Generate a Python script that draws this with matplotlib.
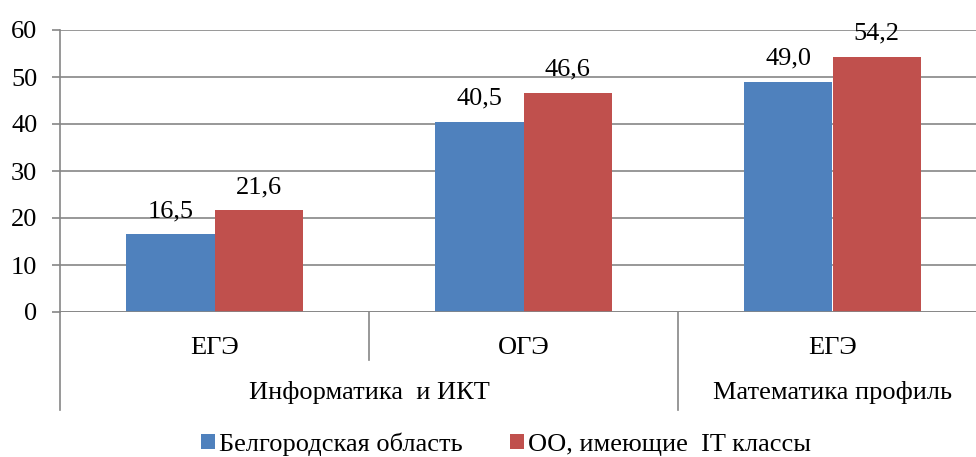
import matplotlib.pyplot as plt
from matplotlib.font_manager import FontProperties
from matplotlib.lines import Line2D

exams = ["ЕГЭ", "ОГЭ", "ЕГЭ"]
subjects = ["Информатика  и ИКТ", "Математика профиль"]
subject_spans = [(0, 2), (2, 3)]  # category index ranges for each subject
series_names = ["Белгородская область", "ОО, имеющие  IT классы"]
region_vals = [16.5, 40.5, 49.0]
it_vals = [21.6, 46.6, 54.2]
colors = ["#4F81BD", "#C0504D"]

W, H = 976, 457
FS = 19
font = FontProperties(family="Liberation Serif", size=FS)
GRID = "#868686"

fig = plt.figure(figsize=(W / 100, H / 100), dpi=100)
left, right, top, bottom = 60, 987, 30, 312
ax = fig.add_axes([left / W, 1 - bottom / H, (right - left) / W, (bottom - top) / H])

bw = 0.285
xs = list(range(len(exams)))
for i, (vals, c) in enumerate(zip([region_vals, it_vals], colors)):
    pos = [x + (i - 0.5) * bw for x in xs]
    bars = ax.bar(pos, vals, width=bw, color=c, label=series_names[i], zorder=3)
    for b, v in zip(bars, vals):
        ax.text(b.get_x() + b.get_width() / 2, v + 3.7, f"{v:.1f}".replace(".", ","),
                ha="center", va="baseline", fontproperties=font, zorder=4)

ax.set_xlim(-0.5, len(exams) - 0.5)
ax.set_ylim(0, 60)
ax.set_yticks(range(0, 61, 10))
ax.set_yticklabels([str(t) for t in range(0, 61, 10)], fontproperties=font)
ax.tick_params(axis="y", length=5.8, width=1.2, color=GRID, pad=10.5, direction="out")
ax.tick_params(axis="x", bottom=False, labelbottom=False)
ax.grid(axis="y", color=GRID, linewidth=1.2, zorder=0)
for s in ["top", "right", "bottom"]:
    ax.spines[s].set_visible(False)
ax.spines["left"].set_color(GRID)
ax.spines["left"].set_linewidth(1.2)
ax.axhline(0, color=GRID, linewidth=1.2, zorder=3)

# two-level category axis
h = bottom - top
lvl1 = (bottom - 360) / h
lvl2 = (bottom - 410) / h
tr = ax.get_xaxis_transform()
for x, e in zip(xs, exams):
    ax.text(x, (bottom - 348) / h, e, transform=tr, ha="center", va="center", fontproperties=font)
for (a, b), s in zip(subject_spans, subjects):
    ax.text((a + b - 1) / 2, (bottom - 392) / h, s, transform=tr, ha="center", va="center",
            fontproperties=font)
bounds = [-0.5] + [b - 0.5 for _, b in subject_spans]
for xb in bounds:
    ax.add_line(Line2D([xb, xb], [0, lvl2], transform=tr, color=GRID, lw=1.2, clip_on=False))
for (a, b) in subject_spans:
    for k in range(a + 1, b):
        ax.add_line(Line2D([k - 0.5, k - 0.5], [0, lvl1], transform=tr, color=GRID, lw=1.2,
                           clip_on=False))

fig.legend(loc="center", bbox_to_anchor=(506 / W, 1 - 444 / H), ncol=2, frameon=False,
           prop=font, handlelength=0.53, handleheight=0.53, handletextpad=0.15,
           columnspacing=1.8, borderaxespad=0)

fig.savefig("out.png", dpi=100)
